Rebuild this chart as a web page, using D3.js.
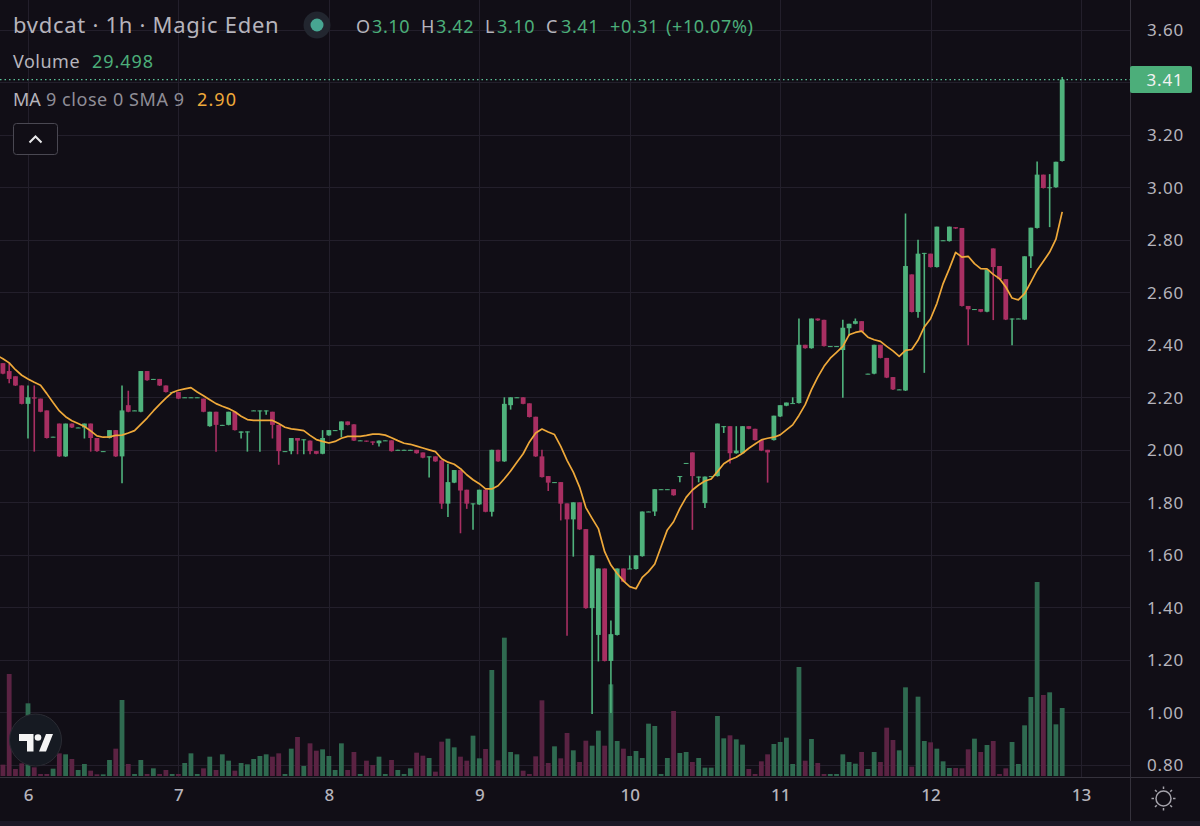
<!DOCTYPE html>
<html><head><meta charset="utf-8">
<script src="https://cdn.jsdelivr.net/npm/d3@7"></script>
<style>
html,body{margin:0;padding:0;background:#110e16}
svg{display:block}
text{font-family:"Noto Sans","Open Sans",sans-serif}
</style></head><body>
<div id="chart"></div>
<script>
// Bars are hourly; hours are counted from 00:00 on day 6. First bar sits just left of the frame.
const firstHour = -5;
const dayLabels = ["6","7","8","9","10","11","12","13"];
const priceTicks = [3.6,3.4,3.2,3.0,2.8,2.6,2.4,2.2,2.0,1.8,1.6,1.4,1.2,1.0,0.8];
const opens = [
2.36,2.33,2.30,2.28,2.245,2.175,2.20,2.195,2.15,2.05,
2.10,1.975,2.10,2.085,2.085,2.10,2.045,1.995,2.045,2.075,
1.975,2.17,2.15,2.145,2.30,2.27,2.27,2.245,2.22,2.22,
2.20,2.20,2.20,2.195,2.09,2.145,2.095,2.095,2.145,2.065,
2.07,2.15,2.15,2.15,2.145,2.095,1.995,1.995,2.045,2.04,
2.035,1.995,1.985,2.055,2.075,2.075,2.108,2.097,2.036,2.035,
2.032,2.025,2.036,2.036,2.0,2.0,2.0,2.0,1.99,1.975,
1.975,1.96,1.795,1.875,1.923,1.848,1.796,1.792,1.848,1.764,
2.0,1.956,2.17,2.2,2.2,2.177,2.126,1.975,1.9,1.877,
1.877,1.796,1.735,1.8,1.698,1.397,1.295,1.548,1.196,1.295,
1.548,1.548,1.546,1.595,1.765,1.765,1.85,1.85,1.85,1.90,
1.95,1.99,1.898,1.797,1.90,1.90,2.09,2.09,1.987,1.987,
2.09,2.08,2.037,2.0,2.037,2.127,2.168,2.178,2.178,2.4,
2.387,2.5,2.495,2.395,2.395,2.38,2.463,2.48,2.49,2.29,
2.29,2.4,2.35,2.277,2.23,2.226,2.668,2.525,2.75,2.747,
2.696,2.798,2.795,2.848,2.845,2.548,2.536,2.536,2.526,2.767,
2.7,2.65,2.5,2.5,2.496,2.737,2.845,3.048,3.0,3.0,3.10];
const highs = [
2.37,2.33,2.33,2.28,2.245,2.245,2.245,2.195,2.15,2.05,
2.10,2.10,2.10,2.085,2.10,2.10,2.045,1.995,2.075,2.075,
2.245,2.225,2.15,2.30,2.30,2.27,2.27,2.245,2.22,2.22,
2.20,2.20,2.20,2.195,2.145,2.145,2.095,2.145,2.145,2.07,
2.07,2.15,2.15,2.15,2.145,2.095,1.995,2.045,2.045,2.04,
2.035,1.995,2.075,2.075,2.075,2.108,2.108,2.097,2.036,2.035,
2.032,2.035,2.036,2.036,2.0,2.0,2.0,2.0,1.99,1.975,
1.975,1.96,1.947,1.923,1.923,1.848,1.796,1.848,1.848,2.0,
2.0,2.2,2.2,2.2,2.2,2.177,2.126,2.0,1.9,1.877,
1.877,1.796,1.8,1.8,1.698,1.598,1.548,1.548,1.35,1.548,
1.548,1.598,1.598,1.765,1.765,1.85,1.85,1.85,1.85,1.90,
1.95,1.99,1.898,1.898,1.90,2.10,2.09,2.09,2.09,2.09,
2.09,2.08,2.037,2.0,2.13,2.17,2.18,2.2,2.5,2.4,
2.5,2.5,2.495,2.395,2.395,2.495,2.48,2.5,2.49,2.29,
2.4,2.4,2.35,2.277,2.23,2.90,2.668,2.80,2.75,2.747,
2.85,2.798,2.85,2.848,2.845,2.548,2.536,2.536,2.686,2.767,
2.7,2.65,2.5,2.5,2.737,2.846,3.098,3.048,3.05,3.097,3.42];
const lows = [
2.33,2.29,2.255,2.245,2.175,2.045,1.995,2.145,2.045,2.05,
1.975,1.975,2.085,2.085,2.045,1.995,1.995,1.995,2.045,1.975,
1.875,2.145,2.15,2.145,2.265,2.27,2.245,2.22,2.22,2.195,
2.20,2.20,2.20,2.145,2.09,1.995,2.095,2.095,2.075,2.045,
1.995,2.15,1.995,2.135,2.045,1.945,1.995,1.985,1.985,1.985,
1.985,1.985,1.985,2.055,2.075,2.05,2.095,2.035,2.036,2.032,
2.02,2.015,2.036,1.995,2.0,2.0,2.0,1.987,1.97,1.896,
1.956,1.777,1.746,1.875,1.684,1.777,1.697,1.792,1.764,1.748,
1.956,1.956,2.155,2.2,2.175,2.125,1.975,1.896,1.845,1.877,
1.733,1.294,1.595,1.697,1.397,0.996,1.196,1.196,1.0,1.295,
1.498,1.548,1.546,1.595,1.765,1.75,1.85,1.85,1.827,1.878,
1.95,1.697,1.878,1.78,1.90,1.90,2.066,1.95,1.987,1.987,
2.08,2.037,1.997,1.877,2.037,2.127,2.168,2.178,2.178,2.387,
2.387,2.493,2.395,2.395,2.395,2.2,2.435,2.48,2.45,2.29,
2.29,2.35,2.275,2.23,2.23,2.226,2.525,2.505,2.295,2.696,
2.696,2.798,2.795,2.843,2.548,2.4,2.536,2.526,2.526,2.496,
2.65,2.496,2.4,2.5,2.496,2.694,2.845,2.997,2.85,3.0,3.10];
const closes = [
2.33,2.29,2.27,2.245,2.175,2.20,2.195,2.145,2.045,2.05,
1.975,2.10,2.085,2.085,2.10,2.045,1.995,1.995,2.075,1.975,
2.15,2.145,2.15,2.30,2.265,2.27,2.245,2.22,2.22,2.195,
2.20,2.20,2.20,2.145,2.145,2.095,2.095,2.145,2.075,2.07,
2.07,2.15,2.15,2.15,2.095,1.995,1.995,2.045,2.035,2.04,
1.995,1.985,2.045,2.075,2.075,2.108,2.095,2.035,2.036,2.032,
2.027,2.035,2.036,1.995,2.0,2.0,2.0,1.987,1.97,1.975,
1.956,1.795,1.877,1.923,1.845,1.795,1.796,1.848,1.764,2.0,
1.956,2.175,2.2,2.2,2.175,2.125,1.975,1.896,1.875,1.877,
1.795,1.735,1.8,1.697,1.397,1.598,1.548,1.196,1.298,1.548,
1.498,1.548,1.598,1.765,1.765,1.85,1.85,1.85,1.827,1.90,
1.95,1.90,1.898,1.898,1.90,2.10,2.09,1.987,1.997,2.09,
2.08,2.037,1.997,1.99,2.13,2.17,2.18,2.178,2.4,2.387,
2.5,2.493,2.395,2.395,2.395,2.465,2.48,2.49,2.45,2.29,
2.4,2.35,2.275,2.23,2.23,2.70,2.525,2.747,2.75,2.696,
2.85,2.798,2.85,2.843,2.548,2.535,2.536,2.526,2.686,2.696,
2.65,2.496,2.5,2.5,2.737,2.846,3.048,2.997,3.0,3.097,3.41];
const ma9 = [
2.36,2.347,2.331,2.305,2.284,2.27,2.257,2.246,2.214,2.18,
2.148,2.126,2.111,2.10,2.089,2.072,2.053,2.048,2.049,2.055,
2.056,2.064,2.073,2.097,2.121,2.148,2.173,2.197,2.218,2.227,
2.232,2.237,2.22,2.206,2.191,2.176,2.166,2.157,2.145,2.128,
2.115,2.112,2.112,2.112,2.112,2.10,2.086,2.08,2.077,2.073,
2.055,2.039,2.032,2.026,2.032,2.044,2.051,2.051,2.051,2.055,
2.06,2.06,2.056,2.046,2.035,2.025,2.021,2.014,2.007,2.0,
1.993,1.966,1.953,1.945,1.928,1.905,1.886,1.871,1.851,1.851,
1.863,1.89,1.919,1.953,1.985,2.03,2.064,2.079,2.068,2.058,
2.013,1.96,1.915,1.858,1.78,1.739,1.70,1.612,1.561,1.529,
1.501,1.479,1.471,1.514,1.536,1.565,1.631,1.695,1.726,1.777,
1.819,1.847,1.866,1.881,1.889,1.917,1.947,1.962,1.972,1.987,
2.006,2.022,2.038,2.044,2.048,2.057,2.076,2.095,2.131,2.172,
2.229,2.277,2.318,2.349,2.371,2.394,2.438,2.447,2.452,2.429,
2.419,2.413,2.394,2.377,2.356,2.379,2.382,2.417,2.468,2.499,
2.557,2.633,2.69,2.752,2.734,2.737,2.709,2.69,2.689,2.668,
2.652,2.62,2.578,2.571,2.595,2.639,2.684,2.718,2.753,2.802,2.906];
const volumes = [
0,34,306,21,38,218,26,6,6,22,
68,65,51,18,36,16,5,5,48,82,
228,36,6,48,6,23,6,18,6,6,
39,68,6,23,58,18,65,46,16,39,
35,51,60,65,58,68,6,82,117,30,
98,76,80,60,18,98,18,72,6,46,
33,58,6,48,18,6,23,70,61,54,
13,103,112,86,58,46,121,53,81,318,
47,415,72,65,16,6,59,227,39,89,
53,129,77,42,106,91,136,91,275,105,
82,60,75,54,157,150,6,54,195,69,
72,42,54,25,25,180,113,122,110,94,
21,6,44,65,96,102,115,36,327,46,
111,39,6,6,6,65,42,37,72,21,
72,42,145,108,77,266,28,238,105,101,
82,44,24,24,23,80,112,72,93,105,
6,23,102,36,152,237,582,243,251,155,204];
const volumeUnit = 29.498 / 204;           // the last bar's label is 29.498
const legendOHLC = [["O","3.10"],["H","3.42"],["L","3.10"],["C","3.41"]];
const legendChange = "+0.31"; const legendPct = "(+10.07%)";
const legendMA = "2.90"; const lastPrice = 3.41;

const W = 1200, H = 826, axisX = 1130, axisY = 777;
const BG="#110e16", GRID="#231f2b", UP="#4fb27c", DOWN="#a82f62", VUP="#2f6a50", VDOWN="#5b2343",
      TXT="#b6b4bc", GTXT="#4cae7a", ORANGE="#efa93a", LINE="#35323c";

const svg = d3.select("#chart").append("svg").attr("width",W).attr("height",H).attr("viewBox",`0 0 ${W} ${H}`);
svg.append("rect").attr("width",W).attr("height",H).attr("fill",BG);
svg.append("rect").attr("y",821).attr("width",W).attr("height",5).attr("fill","#1c1826");
const clip = svg.append("clipPath").attr("id","pane").append("rect").attr("width",axisX).attr("height",axisY);

const bars = opens.map((o,k)=>({h:firstHour+k,o,hi:highs[k],lo:lows[k],c:closes[k],ma:ma9[k],v:volumes[k]*volumeUnit}));
const x = d3.scaleLinear().domain([0,168]).range([28,1081]);
const y = d3.scaleLinear().domain([3.6,0.8]).range([29.7,764.9]);
const vy = d3.scaleLinear().domain([0,582*volumeUnit]).range([776,582]);
const dayHours = dayLabels.map((d,k)=>k*24);

// grid
const grid = svg.append("g").attr("shape-rendering","crispEdges").attr("stroke",GRID).attr("stroke-width",1);
grid.selectAll("line.v").data(dayHours).join("line").attr("class","v")
  .attr("x1",d=>Math.round(x(d))+.5).attr("x2",d=>Math.round(x(d))+.5).attr("y1",0).attr("y2",axisY);
grid.selectAll("line.h").data(priceTicks).join("line").attr("class","h")
  .attr("x1",0).attr("x2",axisX).attr("y1",d=>Math.round(y(d))+.5).attr("y2",d=>Math.round(y(d))+.5);

const pane = svg.append("g").attr("clip-path","url(#pane)");
// volume
pane.append("g").selectAll("rect").data(bars).join("rect")
  .attr("x",d=>x(d.h)-2.4).attr("width",4.8)
  .attr("y",d=>vy(d.v)).attr("height",d=>776-vy(d.v))
  .attr("fill",d=>d.c>=d.o?VUP:VDOWN);
// wicks
pane.append("g").selectAll("line").data(bars).join("line")
  .attr("x1",d=>x(d.h)).attr("x2",d=>x(d.h)).attr("y1",d=>y(d.hi)).attr("y2",d=>y(d.lo)+.5)
  .attr("stroke",d=>d.c>=d.o?UP:DOWN).attr("stroke-width",1.6);
// bodies
pane.append("g").selectAll("rect").data(bars).join("rect")
  .attr("x",d=>x(d.h)-2.4).attr("width",4.8)
  .attr("y",d=>y(Math.max(d.o,d.c)))
  .attr("height",d=>Math.max(1,Math.abs(y(d.o)-y(d.c))))
  .attr("fill",d=>d.c>=d.o?UP:DOWN);
// SMA
pane.append("path").datum(bars).attr("fill","none").attr("stroke",ORANGE).attr("stroke-width",1.7)
  .attr("stroke-linejoin","round")
  .attr("d",d3.line().x(d=>x(d.h)).y(d=>y(d.ma)));
// last price dotted line
svg.append("line").attr("x1",0).attr("x2",axisX).attr("y1",y(lastPrice)).attr("y2",y(lastPrice))
  .attr("stroke","#5cbf97").attr("stroke-width",1.2).attr("stroke-dasharray","1.5 3");

// axis frame
svg.append("line").attr("x1",axisX+.5).attr("x2",axisX+.5).attr("y1",0).attr("y2",821).attr("stroke",LINE);
svg.append("line").attr("x1",0).attr("x2",W).attr("y1",axisY+.5).attr("y2",axisY+.5).attr("stroke",LINE);

// price axis
const yAxis = svg.append("g").attr("transform",`translate(${axisX},0.6)`)
  .call(d3.axisRight(y).tickValues(priceTicks).tickFormat(d3.format(".2f")).tickSize(0).tickPadding(17));
yAxis.select(".domain").remove();
yAxis.selectAll("text").attr("fill",TXT).attr("font-size",17).style("letter-spacing","0.8px");
yAxis.selectAll(".tick").filter(d=>d===3.4).remove();
// time axis
const xAxis = svg.append("g").attr("transform",`translate(0,${axisY})`)
  .call(d3.axisBottom(x).tickValues(dayHours).tickFormat((d,k)=>dayLabels[k]).tickSize(0).tickPadding(12));
xAxis.select(".domain").remove();
xAxis.selectAll("text").attr("fill",TXT).attr("font-size",17).attr("font-weight",500);

// last price tag
svg.append("rect").attr("x",axisX).attr("y",y(lastPrice)-13.5).attr("width",62).attr("height",27).attr("rx",2).attr("fill",GTXT);
svg.append("text").attr("x",axisX+35).attr("y",y(lastPrice)+6.3).attr("text-anchor","middle")
  .attr("fill","#f2f2f2").attr("font-size",17).style("letter-spacing","0.8px").text(d3.format(".2f")(lastPrice));

// legend
const label = (px,py,t,fill,size=18,extra=0)=>svg.append("text").attr("x",px).attr("y",py).attr("fill",fill)
  .attr("font-size",size).style("letter-spacing",extra+"px").text(t);
label(13,33,"bvdcat · 1h · Magic Eden",TXT,22,0.72);
svg.append("circle").attr("cx",317).attr("cy",25).attr("r",13.5).attr("fill","#22262f");
svg.append("circle").attr("cx",317).attr("cy",25).attr("r",6.5).attr("fill","#47a692");
const ohlcX = [[356,372],[421,436],[485,497],[546,561]];
legendOHLC.forEach(([k,v],i)=>{label(ohlcX[i][0],33,k,TXT,18,.6);label(ohlcX[i][1],33,v,GTXT,18,.6);});
label(610,33,legendChange,GTXT,18,.6);
label(666,33,legendPct,GTXT,18,.6);
label(13,68,"Volume",TXT,18,.5);
label(92,68,d3.format(".3f")(volumes[volumes.length-1]*volumeUnit),GTXT,18,.95);
label(13,106,"MA",TXT,18,0);
label(46,106,"9 close 0 SMA 9",'#8f8d96',18,.55);
label(197,106,legendMA,ORANGE,18,1.1);
// collapse button
svg.append("rect").attr("x",13.5).attr("y",123.5).attr("width",44).attr("height",31).attr("rx",3)
  .attr("fill",BG).attr("stroke","#4a4852");
svg.append("path").attr("d","M29.5 142.5L35.5 136.5L41.5 142.5").attr("fill","none").attr("stroke","#e8e8ea").attr("stroke-width",2);

// logo badge
svg.append("circle").attr("cx",35.5).attr("cy",740).attr("r",26).attr("fill","#161a22").attr("stroke","#2a2b33").attr("stroke-width",1);
svg.append("path").attr("d","M19 734H33.5V751.5H27V741H19Z M39 751.5L46 734H53L46 751.5Z").attr("fill","#f4f4f4");
svg.append("circle").attr("cx",38).attr("cy",737.5).attr("r",3.3).attr("fill","#f4f4f4");

// theme (sun) icon
const sun = svg.append("g").attr("transform","translate(1163.5,798.5)").attr("stroke","#a5a3ab").attr("stroke-width",1.5).attr("fill","none");
sun.append("circle").attr("r",7.5);
d3.range(8).forEach(k=>{const a=k*Math.PI/4; sun.append("line")
  .attr("x1",Math.cos(a)*9.5).attr("y1",Math.sin(a)*9.5).attr("x2",Math.cos(a)*12).attr("y2",Math.sin(a)*12);});
</script></body></html>
